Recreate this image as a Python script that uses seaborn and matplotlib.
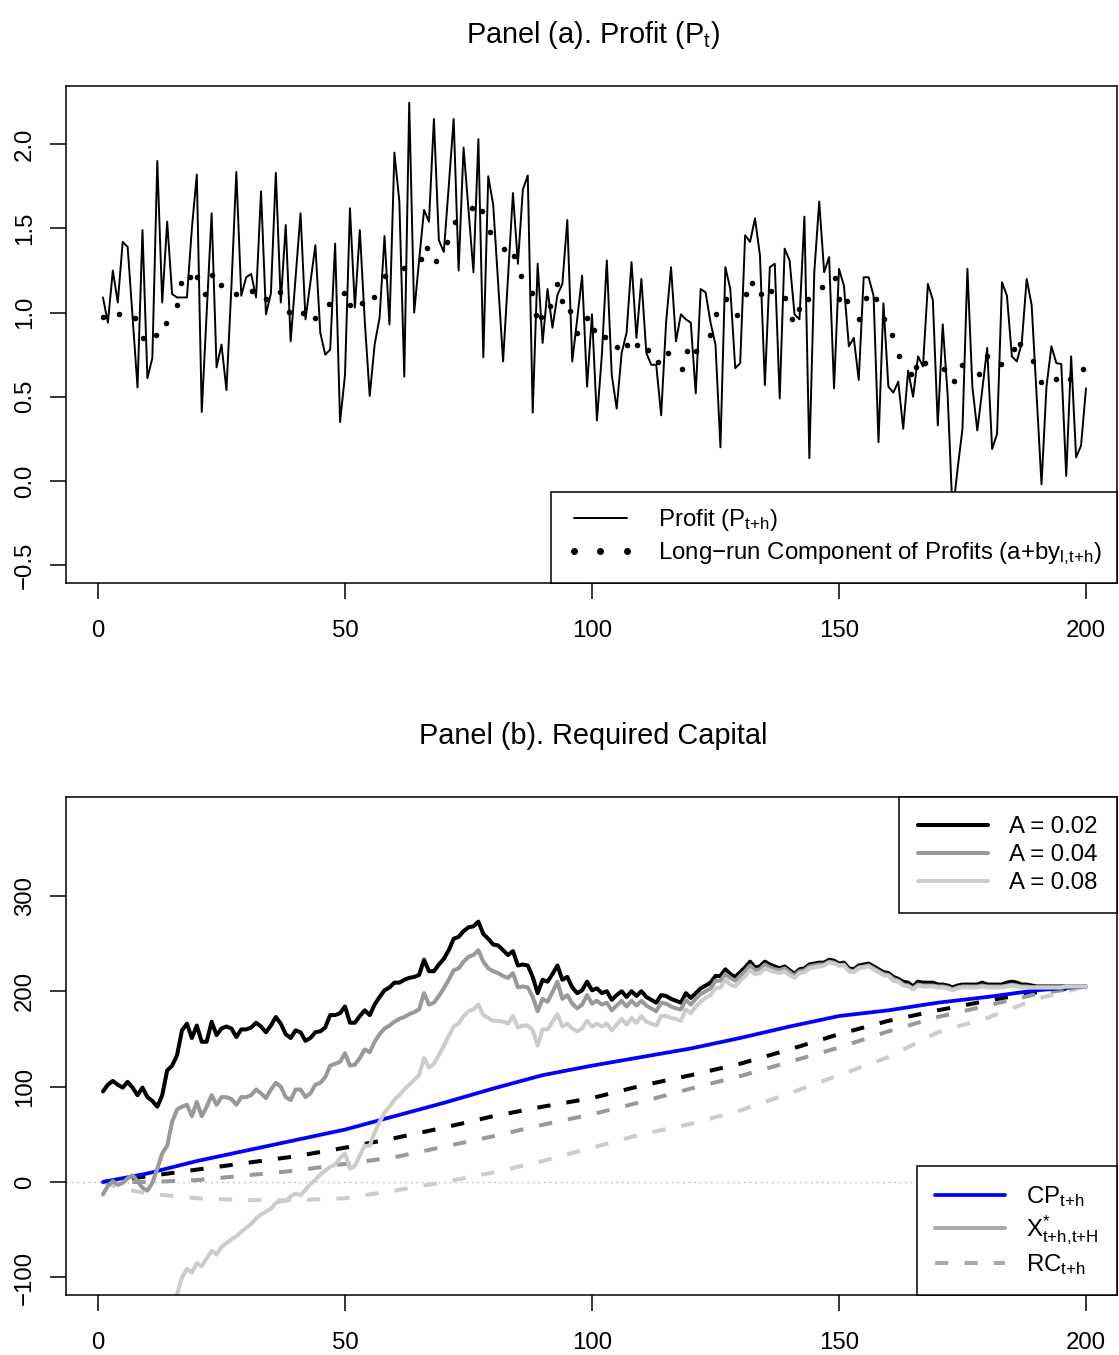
import numpy as np
import matplotlib
matplotlib.use("Agg")
import matplotlib.pyplot as plt
from matplotlib.lines import Line2D
import seaborn as sns

# ---------------- data ----------------
periods = np.arange(1, 201)

profit = [
    1.09, 0.94, 1.25, 1.06, 1.42, 1.39, 0.97, 0.555, 1.49, 0.61,
    0.73, 1.90, 1.06, 1.54, 1.11, 1.09, 1.09, 1.09, 1.50, 1.82,
    0.41, 1.00, 1.59, 0.675, 0.81, 0.54, 1.15, 1.835, 1.10, 1.21,
    1.23, 1.09, 1.72, 0.99, 1.115, 1.83, 1.06, 1.52, 0.83, 1.21,
    1.59, 0.96, 1.18, 1.40, 0.88, 0.75, 0.78, 1.41, 0.35, 0.63,
    1.62, 1.03, 1.49, 0.95, 0.505, 0.81, 0.97, 1.455, 0.93, 1.95,
    1.66, 0.62, 2.247, 1.00, 1.31, 1.61, 1.54, 2.15, 1.43, 1.36,
    1.75, 2.15, 1.25, 1.98, 1.61, 1.24, 2.03, 0.735, 1.81, 1.64,
    1.18, 0.71, 1.21, 1.71, 1.29, 1.73, 1.815, 0.406, 1.29, 0.82,
    1.14, 0.91, 1.105, 1.17, 1.55, 0.71, 0.96, 1.22, 0.56, 0.99,
    0.36, 0.75, 1.31, 0.63, 0.43, 0.76, 0.88, 1.30, 0.85, 1.20,
    0.76, 0.69, 0.69, 0.39, 0.94, 1.27, 0.83, 0.99, 0.96, 0.94,
    0.52, 1.14, 1.12, 0.94, 0.81, 0.20, 1.27, 1.14, 0.67, 0.70,
    1.46, 1.42, 1.56, 1.34, 0.57, 1.27, 1.29, 0.49, 1.38, 1.31,
    0.99, 0.96, 1.57, 0.135, 1.24, 1.66, 1.24, 1.33, 0.55, 1.26,
    1.16, 0.80, 0.85, 0.60, 1.21, 1.21, 1.10, 0.23, 1.055, 0.56,
    0.525, 0.59, 0.31, 0.655, 0.50, 0.74, 0.68, 1.17, 1.075, 0.33,
    0.93, 0.51, -0.20, 0.07, 0.31, 1.26, 0.56, 0.30, 0.54, 0.79,
    0.19, 0.28, 1.18, 1.10, 0.74, 0.71, 0.82, 1.20, 1.045, 0.51,
    -0.02, 0.56, 0.80, 0.70, 0.695, 0.03, 0.74, 0.14, 0.21, 0.55,
]

longrun_t = [
    1.1, 4.3, 7.4, 9.2, 11.8, 13.8, 15.9, 16.9, 18.6, 20.1, 21.7, 23.1, 24.9,
    27.9, 31.2, 34.1, 36.9, 38.7, 41.4, 43.9, 46.7, 49.7, 51.0, 53.5, 55.9,
    58.1, 61.9, 65.4, 66.5, 68.4, 70.6, 72.3, 75.7, 77.7, 79.4, 82.1, 84.3,
    85.6, 87.9, 88.7, 89.7, 91.4, 92.9, 93.9, 95.5, 97.0, 98.9, 100.4, 102.7,
    105.1, 107.0, 109.2, 111.3, 113.4, 115.3, 118.2, 119.3, 121.1, 123.8,
    125.1, 127.2, 129.4, 131.1, 132.4, 134.2, 136.3, 139.1, 140.4, 142.0,
    143.8, 146.5, 149.1, 150.1, 151.6, 154.1, 155.4, 157.4, 159.2, 160.8,
    162.2, 164.5, 165.6, 167.5, 171.3, 173.2, 174.9, 178.3, 180.0, 182.7,
    185.4, 186.6, 189.2, 190.9, 194.0, 196.7, 199.4,
]
longrun_v = [
    0.976, 0.992, 0.968, 0.847, 0.869, 0.936, 1.047, 1.176, 1.212, 1.214,
    1.111, 1.223, 1.164, 1.113, 1.128, 1.079, 1.124, 1.006, 0.996, 0.968,
    1.053, 1.117, 1.045, 1.057, 1.095, 1.217, 1.263, 1.318, 1.382, 1.305,
    1.419, 1.540, 1.619, 1.603, 1.481, 1.376, 1.334, 1.217, 1.119, 0.986,
    0.976, 1.039, 1.168, 1.069, 1.008, 0.879, 0.966, 0.897, 0.857, 0.798,
    0.806, 0.810, 0.778, 0.709, 0.758, 0.663, 0.770, 0.770, 0.869, 0.994,
    1.083, 0.988, 1.111, 1.174, 1.111, 1.128, 1.089, 0.960, 1.021, 1.083,
    1.152, 1.204, 1.083, 1.069, 0.960, 1.085, 1.081, 0.964, 0.867, 0.742,
    0.634, 0.675, 0.703, 0.663, 0.594, 0.691, 0.634, 0.744, 0.693, 0.786,
    0.812, 0.711, 0.588, 0.606, 0.604, 0.663,
]

# X*_{t+h,t+H} for the three values of A
xstar_a02 = [
    95, 102, 106, 102, 99, 105, 99, 91, 99, 89,
    85, 79, 91, 117, 122, 133, 159, 166, 151, 164,
    147, 147, 168, 154, 161, 163, 161, 152, 160, 160,
    162, 167, 163, 157, 164, 173, 166, 155, 151, 159,
    157, 148, 151, 157, 158, 162, 175, 175, 177, 184,
    167, 167, 174, 180, 175, 186, 194, 201, 204, 209,
    209, 212, 214, 215, 217, 233, 221, 221, 228, 234,
    243, 255, 257, 263, 267, 268, 273, 260, 255, 249,
    248, 243, 238, 242, 227, 228, 227, 215, 198, 212,
    210, 218, 227, 212, 215, 204, 198, 201, 210, 201,
    203, 198, 200, 191, 196, 200, 194, 200, 195, 200,
    194, 191, 188, 196, 195, 192, 190, 188, 198, 193,
    198, 203, 206, 209, 216, 216, 223, 218, 215, 220,
    225, 231, 225, 226, 231, 228, 226, 224, 226, 222,
    218, 223, 224, 228, 229, 230, 230, 233, 232, 229,
    230, 224, 223, 227, 228, 229, 226, 223, 220, 219,
    215, 213, 210, 209, 205, 210, 209, 209, 209, 207,
    207, 206, 204, 206, 207, 207, 207, 207, 209, 207,
    207, 207, 207, 209, 210, 209, 207, 207, 206, 205,
    205, 205, 205, 205, 205, 205, 205, 205, 205, 205,
]
xstar_a04 = [
    -13, -4, 1, -3, -1, 4, 7, 1, -6, -9,
    -1, 14, 30, 38, 63, 76, 79, 81, 69, 84,
    69, 79, 91, 81, 89, 89, 87, 81, 89, 89,
    91, 97, 93, 88, 97, 104, 100, 89, 86, 97,
    97, 89, 93, 102, 104, 110, 122, 124, 126, 135,
    122, 123, 130, 139, 136, 147, 155, 161, 164, 168,
    171, 173, 176, 178, 181, 198, 186, 188, 195, 203,
    212, 222, 224, 231, 236, 238, 243, 231, 224, 221,
    219, 216, 214, 219, 204, 205, 204, 194, 179, 192,
    189, 199, 210, 192, 196, 187, 182, 186, 196, 187,
    190, 186, 188, 180, 185, 190, 184, 190, 185, 190,
    185, 182, 179, 188, 187, 184, 182, 181, 191, 186,
    192, 197, 200, 203, 211, 211, 218, 214, 211, 216,
    221, 227, 222, 223, 228, 225, 223, 222, 224, 220,
    216, 221, 222, 226, 227, 228, 228, 231, 230, 227,
    228, 222, 221, 225, 226, 227, 224, 221, 218, 217,
    213, 211, 207, 206, 203, 207, 206, 206, 206, 205,
    205, 204, 202, 204, 205, 205, 205, 205, 206, 205,
    205, 205, 205, 206, 207, 206, 205, 205, 204, 204,
    204, 204, 204, 204, 204, 205, 205, 205, 205, 205,
]
periods_a08 = np.arange(15, 201)
xstar_a08 = [
    -140, -118, -100, -91, -95, -85,
    -88, -80, -72, -76, -68, -64, -60, -57, -52, -48,
    -44, -38, -34, -31, -28, -22, -20, -20, -15, -12,
    -14, -8, -2, 2, 8, 12, 16, 18, 25, 30,
    14, 17, 28, 38, 38, 52, 63, 73, 79, 86,
    91, 97, 102, 107, 112, 130, 120, 124, 133, 143,
    153, 163, 166, 174, 179, 181, 186, 175, 172, 169,
    169, 168, 166, 174, 162, 164, 164, 159, 143, 160,
    160, 168, 176, 163, 166, 161, 158, 161, 169, 163,
    166, 163, 166, 159, 165, 171, 165, 172, 167, 174,
    168, 166, 164, 174, 174, 172, 171, 169, 181, 177,
    184, 189, 193, 196, 203, 204, 212, 207, 205, 211,
    216, 222, 218, 219, 224, 222, 220, 219, 221, 217,
    214, 219, 220, 224, 225, 226, 227, 230, 229, 227,
    227, 221,
    220, 224, 225, 226, 223, 220, 217, 216,
    211, 210, 206, 205, 202, 206, 205, 205, 205, 204,
    204, 203, 201, 203, 204, 204, 204, 204, 205, 204,
    204, 204, 204, 205, 206, 205, 204, 204, 204, 204,
    204, 204, 204, 204, 204, 205, 205, 205, 205, 205,
]

# smooth paths: cumulative profit and required capital
smooth_t = [1, 10, 20, 30, 40, 50, 60, 70, 80, 90, 100,
            110, 120, 130, 140, 150, 160, 170, 180, 190, 200]
cp = [0, 9, 22, 33, 44, 55, 69, 83, 98, 112, 122,
      131, 140, 151, 163, 174, 180, 188, 194, 201, 205]
rc_a02 = [0, 6, 13, 20, 27, 36, 46, 57, 69, 79, 88,
          101, 112, 124, 139, 155, 169, 180, 190, 199, 205]
rc_a04 = [0, 0, 2, 7, 12, 19, 26, 37, 48, 60, 71,
          84, 98, 111, 126, 141, 158, 173, 185, 197, 205]
rc_a08_t = [1, 5, 10, 20, 30, 40, 50, 60, 70, 80, 90, 100,
            110, 120, 130, 140, 150, 160, 170, 180, 190, 200]
rc_a08 = [0, -7, -12, -17, -19, -19, -17, -9, 0, 10, 22, 36,
          50, 61, 75, 93, 112, 131, 157, 172, 192, 205]

a_labels = ["A = 0.02", "A = 0.04", "A = 0.08"]
a_colors = ["#000000", "#999999", "#cccccc"]

# ---------------- style ----------------
sns.set_style("ticks")
plt.rcParams["font.family"] = ["Liberation Sans", "DejaVu Sans"]
plt.rcParams["mathtext.fontset"] = "custom"
plt.rcParams["mathtext.rm"] = "Liberation Sans"
plt.rcParams["mathtext.it"] = "Liberation Sans:italic"
plt.rcParams["mathtext.sf"] = "Liberation Sans"
plt.rcParams["axes.unicode_minus"] = True
plt.rcParams["text.color"] = "black"
plt.rcParams["axes.labelcolor"] = "black"
plt.rcParams["xtick.color"] = "black"
plt.rcParams["ytick.color"] = "black"

FS = 17.3
TFS = 20.8
DASH = (0, (3.3, 4))

W, H = 1119, 1355
fig = plt.figure(figsize=(W / 100, H / 100), dpi=100)


def box(left, top, right, bottom):
    return [left / W, 1 - bottom / H, (right - left) / W, (bottom - top) / H]


ax1 = fig.add_axes(box(66, 86, 1117, 583))
ax2 = fig.add_axes(box(66, 797, 1117, 1295))


def style_axes(ax, yticks, ylabels):
    ax.set_xlim(-6.48, 206.28)
    ax.set_xticks([0, 50, 100, 150, 200])
    ax.set_xticklabels(["0", "50", "100", "150", "200"], fontsize=FS)
    ax.set_yticks(yticks)
    ax.set_yticklabels(ylabels, fontsize=FS, rotation=90, va="center")
    ax.tick_params(axis="both", direction="out", length=11.5, width=1.1,
                   color="black", labelcolor="black")
    ax.tick_params(axis="x", pad=15)
    ax.tick_params(axis="y", pad=10)
    for s in ax.spines.values():
        s.set_visible(True)
        s.set_color("black")
        s.set_linewidth(1.1)
    ax.set_xlabel("")
    ax.set_ylabel("")


# ---------------- panel (a) ----------------
sns.lineplot(x=periods, y=profit, ax=ax1, color="black", linewidth=1.4,
             estimator=None, sort=False)
sns.scatterplot(x=longrun_t, y=longrun_v, ax=ax1, color="black", s=16,
                linewidth=0, zorder=3)
ax1.set_ylim(-0.606, 2.346)
style_axes(ax1, [-0.5, 0.0, 0.5, 1.0, 1.5, 2.0],
           ["\u22120.5", "0.0", "0.5", "1.0", "1.5", "2.0"])
fig.text(593 / W, 1 - 35 / H, r"Panel (a). Profit (P$_\mathregular{t}$)",
         fontsize=TFS, ha="center", va="center", color="black")

h_a = [Line2D([], [], color="black", lw=1.4),
       Line2D([], [], color="black", marker="o", ls="none", markersize=4)]
l_a = [r"Profit (P$_\mathregular{t{+}h}$)",
       "Long\u2212run Component of Profits (a+by$_\\mathregular{l,\\!t{+}h}$)"]
leg_a = ax1.legend(h_a, l_a, loc="lower right", bbox_to_anchor=(1, 0),
                   borderaxespad=0, fancybox=False, framealpha=1,
                   edgecolor="black", fontsize=FS, numpoints=3,
                   handlelength=2.8, handletextpad=1.0, labelspacing=0.3,
                   borderpad=0.65)
leg_a.get_frame().set_linewidth(1.1)

# ---------------- panel (b) ----------------
ax2.axhline(0, color="#b0b0b0", lw=1.0, ls=(0, (1, 3)), zorder=1)
sns.lineplot(x=smooth_t, y=rc_a02, ax=ax2, color=a_colors[0], linewidth=2.9,
             linestyle=DASH, estimator=None, sort=False)
sns.lineplot(x=smooth_t, y=rc_a04, ax=ax2, color=a_colors[1], linewidth=2.9,
             linestyle=DASH, estimator=None, sort=False)
sns.lineplot(x=rc_a08_t, y=rc_a08, ax=ax2, color=a_colors[2], linewidth=2.9,
             linestyle=DASH, estimator=None, sort=False)
sns.lineplot(x=smooth_t, y=cp, ax=ax2, color="#0000ff", linewidth=2.7,
             estimator=None, sort=False)
sns.lineplot(x=periods, y=xstar_a02, ax=ax2, color=a_colors[0], linewidth=2.9,
             estimator=None, sort=False)
sns.lineplot(x=periods, y=xstar_a04, ax=ax2, color=a_colors[1], linewidth=2.9,
             estimator=None, sort=False)
sns.lineplot(x=periods_a08, y=xstar_a08, ax=ax2, color=a_colors[2], linewidth=2.9,
             estimator=None, sort=False)
ax2.set_ylim(-118.4, 403.6)
style_axes(ax2, [-100, 0, 100, 200, 300],
           ["\u2212100", "0", "100", "200", "300"])
fig.text(593 / W, 1 - 736 / H, "Panel (b). Required Capital",
         fontsize=TFS, ha="center", va="center", color="black")

h_top = [Line2D([], [], color=c, lw=2.9) for c in a_colors]
leg_top = ax2.legend(h_top, a_labels, loc="upper right", bbox_to_anchor=(1, 1),
                     borderaxespad=0, fancybox=False, framealpha=1,
                     edgecolor="black", fontsize=FS, handlelength=2.9,
                     handletextpad=0.9, labelspacing=0.25, borderpad=0.8)
leg_top.get_frame().set_linewidth(1.1)
ax2.add_artist(leg_top)

h_bot = [Line2D([], [], color="#0000ff", lw=2.7),
         Line2D([], [], color="#aaaaaa", lw=2.9),
         Line2D([], [], color="#aaaaaa", lw=2.9, ls=DASH)]
l_bot = [r"$\mathregular{CP_{t{+}h}}$",
         r"$\mathregular{X^{*}_{t{+}h,\!t{+}H}}$",
         r"$\mathregular{RC_{t{+}h}}$"]
leg_bot = ax2.legend(h_bot, l_bot, loc="lower right", bbox_to_anchor=(1, 0),
                     borderaxespad=0, fancybox=False, framealpha=1,
                     edgecolor="black", fontsize=FS, handlelength=2.9,
                     handletextpad=0.9, labelspacing=0.2, borderpad=0.75)
leg_bot.get_frame().set_linewidth(1.1)

fig.savefig("out.png", dpi=100, facecolor="white")
